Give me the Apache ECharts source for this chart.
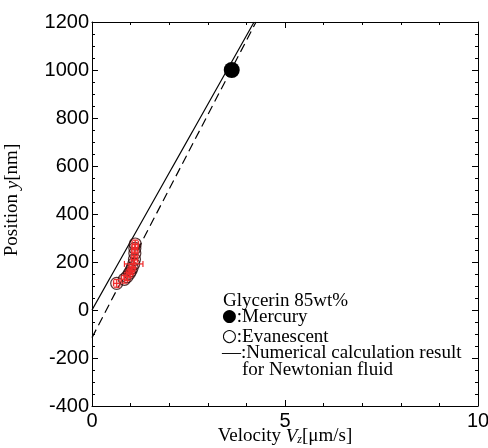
<!DOCTYPE html>
<html><head><meta charset="utf-8">
<script src="https://cdn.jsdelivr.net/npm/echarts@6/dist/echarts.min.js"></script>
<style>html,body{margin:0;padding:0;background:#fff}#c{width:488px;height:448px}</style>
</head><body><div id="c"></div>
<script>
// Data
var evanX = [0.64, 0.84, 0.91, 0.97, 1.01, 1.04, 1.08, 1.10, 1.11, 1.11, 1.12];
var evanY = [111, 128, 139, 153, 164, 176, 192, 211, 236, 257, 275];
var evanXErr = [0.08, 0.08, 0.08, 0.08, 0.08, 0.08, 0.24, 0.08, 0.08, 0.08, 0.08];
var evanYErr = [16, 16, 16, 16, 16, 16, 16, 16, 16, 16, 16];
var mercury = [[3.62, 1000]];
var solidLine = [[0, 0], [4.2, 1200]];
var dashedLine = [[0, -115], [4.25, 1200]];
var xTicks = [0, 5, 10];
var yTicks = [-400, -200, 0, 200, 400, 600, 800, 1000, 1200];
var legendLines = ['Glycerin 85wt%', '{s|●}:Mercury', '{s|○}:Evanescent', '—:Numerical calculation result', 'for Newtonian fluid'];

var evanData = evanX.map(function (x, i) { return [x, evanY[i]]; });
var errData = evanX.map(function (x, i) { return [x, evanY[i], evanXErr[i], evanYErr[i]]; });

var serif = 'Liberation Serif';
var sans = 'Liberation Sans';

var chart = echarts.init(document.getElementById('c'), null, {renderer: 'canvas'});

function axisCommon(extra) {
  var o = {
    axisLine: {show: true, onZero: false, lineStyle: {color: '#000', width: 1}},
    axisTick: {show: true, inside: true, length: 6, lineStyle: {color: '#000'}},
    minorTick: {show: true, length: 3, lineStyle: {color: '#000'}},
    splitLine: {show: false},
    minorSplitLine: {show: false}
  };
  for (var k in extra) o[k] = extra[k];
  return o;
}

var legendPos = [[223, 301], [222, 317], [222, 337], [222, 353], [242, 370]];
var graphics = legendLines.map(function (t, i) {
  return {type: 'text', x: legendPos[i][0], y: legendPos[i][1],
    style: {text: t, fontFamily: serif, fontSize: 19, fill: '#000', verticalAlign: 'middle', align: 'left',
      rich: {s: {fontFamily: 'DejaVu Sans', fontSize: 17, fill: '#000'}}}};
});

var option = {
  animation: false,
  grid: {left: 92, right: 10, top: 22, bottom: 42, containLabel: false, outerBoundsMode: 'none'},
  xAxis: [
    axisCommon({type: 'value', min: 0, max: 10, interval: 5, position: 'bottom',
      minorTick: {show: true, splitNumber: 5, length: 3, lineStyle: {color: '#000'}},
      axisLabel: {color: '#000', fontFamily: sans, fontSize: 20, margin: 5,
        formatter: function (v) { return xTicks.indexOf(v) >= 0 ? String(v) : ''; }},
      name: '{a|Velocity }{b|V}{s|z}{a|[μm/s]}',
      nameLocation: 'middle', nameGap: 21, nameMoveOverlap: false,
      nameTextStyle: {rich: {
        a: {fontFamily: serif, fontSize: 19, color: '#000'},
        b: {fontFamily: serif, fontSize: 19, fontStyle: 'italic', color: '#000'},
        s: {fontFamily: serif, fontSize: 12, fontStyle: 'italic', color: '#000', padding: [7, 0, 0, 0]}
      }}
    }),
    axisCommon({type: 'value', min: 0, max: 10, interval: 5, position: 'top',
      minorTick: {show: true, splitNumber: 5, length: 3, lineStyle: {color: '#000'}},
      axisLabel: {show: false}})
  ],
  yAxis: [
    axisCommon({type: 'value', min: -400, max: 1200, interval: 200, position: 'left',
      minorTick: {show: true, splitNumber: 4, length: 3, lineStyle: {color: '#000'}},
      axisLabel: {color: '#000', fontFamily: sans, fontSize: 20, margin: 3,
        formatter: function (v) { return yTicks.indexOf(v) >= 0 ? String(v) : ''; }},
      name: '{a|Position }{b|y}{a|[nm]}',
      nameLocation: 'middle', nameGap: 70, nameRotate: 90, nameMoveOverlap: false,
      nameTextStyle: {padding: [0, 0, 0, 28], rich: {
        a: {fontFamily: serif, fontSize: 19, color: '#000'},
        b: {fontFamily: serif, fontSize: 19, fontStyle: 'italic', color: '#000'}
      }}
    }),
    axisCommon({type: 'value', min: -400, max: 1200, interval: 200, position: 'right',
      minorTick: {show: true, splitNumber: 4, length: 3, lineStyle: {color: '#000'}},
      axisLabel: {show: false}})
  ],
  series: [
    {type: 'line', data: solidLine, showSymbol: false, symbol: 'none',
      lineStyle: {color: '#000', width: 1.2, type: 'solid'}, z: 2},
    {type: 'line', data: dashedLine, showSymbol: false, symbol: 'none',
      lineStyle: {color: '#000', width: 1.2, type: [9, 5]}, z: 2},
    {type: 'scatter', data: evanData, symbol: 'circle', symbolSize: 12,
      itemStyle: {color: 'rgba(255,60,60,0.15)', borderColor: '#2a0808', borderWidth: 1.2}, z: 3},
    {type: 'custom', data: errData, z: 4,
      renderItem: function (params, api) {
        var x = api.value(0), y = api.value(1), ex = api.value(2), ey = api.value(3);
        var l = api.coord([x - ex, y]), r = api.coord([x + ex, y]);
        var b = api.coord([x, y - ey]), t = api.coord([x, y + ey]);
        var st = {stroke: '#ee2a2a', lineWidth: 1.2};
        var cap = 3;
        return {type: 'group', children: [
          {type: 'line', shape: {x1: l[0], y1: l[1], x2: r[0], y2: r[1]}, style: st},
          {type: 'line', shape: {x1: l[0], y1: l[1] - cap, x2: l[0], y2: l[1] + cap}, style: st},
          {type: 'line', shape: {x1: r[0], y1: r[1] - cap, x2: r[0], y2: r[1] + cap}, style: st},
          {type: 'line', shape: {x1: b[0], y1: b[1], x2: t[0], y2: t[1]}, style: st},
          {type: 'line', shape: {x1: b[0] - cap, y1: b[1], x2: b[0] + cap, y2: b[1]}, style: st},
          {type: 'line', shape: {x1: t[0] - cap, y1: t[1], x2: t[0] + cap, y2: t[1]}, style: st}
        ]};
      }},
    {type: 'scatter', data: mercury, symbol: 'circle', symbolSize: 16,
      itemStyle: {color: '#000', opacity: 1}, z: 5}
  ],
  graphic: graphics
};
chart.setOption(option);
</script></body></html>
